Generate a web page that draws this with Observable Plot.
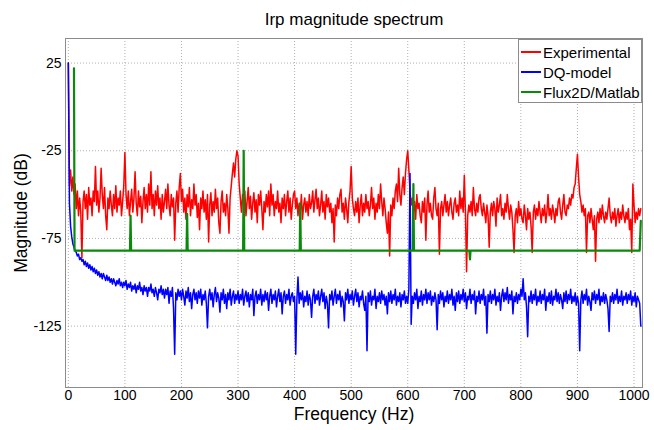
<!DOCTYPE html>
<html><head><meta charset="utf-8">
<script src="https://cdn.jsdelivr.net/npm/d3@7"></script>
<script src="https://cdn.jsdelivr.net/npm/@observablehq/plot@0.6"></script>
<style>
html,body{margin:0;padding:0;background:#fff;}
#wrap{position:relative;width:654px;height:430px;}
#legend{position:absolute;left:518px;top:39px;width:124px;height:64px;border:1px solid #8c8c8c;background:#fff;box-sizing:border-box;font:15px "Liberation Sans",Arial,sans-serif;color:#000;padding-top:2px;}
#legend .row{display:flex;align-items:center;height:20px;}
#legend .sw{width:20px;height:0;border-top:2.2px solid;margin:0 2px 0 2px;}
</style></head>
<body><div id="wrap"><div id="legend"></div></div>
<script>
// frequency step (Hz) of the sampled spectra
const step = 2;
const xTicks = [0,100,200,300,400,500,600,700,800,900,1000];
const yTicks = [25,-25,-75,-125];
const seriesNames = ["Experimental","DQ-model","Flux2D/Matlab"];
const seriesColors = ["#ff0000","#0000ff","#0a8a0a"];

// Experimental (dB), every 2 Hz from 0 to 1012 Hz (one row per 100 Hz)
const expDb = [
  25,-45,-36,-48,-40, -50,-44,-58,-48,-62, -52,-60,-86,-54,-48, -58,-50,-64,-46,-56, -52,-62,-48,-54,-34, -56,-48,-60,-52,-35, -50,-58,-46,-62,-70, -52,-58,-48,-56,-62, -50,-58,-45,-60,-52, -56,-48,-62,-54,-45,
  -26,-50,-58,-48,-62, -54,-47,-60,-52,-37, -55,-62,-48,-57,-51, -66,-54,-46,-58,-50, -60,-44,-56,-37,-58, -50,-62,-48,-56,-45, -58,-52,-64,-50,-60, -54,-47,-58,-44,-56, -62,-50,-57,-52,-76, -55,-48,-60,-46,-38,
  -54,-47,-60,-52,-64, -50,-57,-46,-62,-53, -58,-44,-56,-50,-63, -55,-70,-52,-58,-48, -60,-53,-64,-50,-77, -56,-49,-62,-54,-60, -47,-58,-52,-66,-72, -54,-48,-60,-55,-62, -50,-58,-72,-52,-45, -38,-32,-40,-30,-25,
  -28,-44,-52,-60,-50, -56,-48,-62,-54,-46, -58,-51,-64,-55,-49, -60,-53,-66,-50,-56, -48,-58,-70,-54,-60, -50,-57,-48,-62,-44, -56,-50,-62,-54,-58, -48,-60,-55,-66,-52, -58,-50,-62,-54,-48, -60,-52,-64,-56,-50,
  -48,-58,-52,-62,-55, -60,-50,-64,-56,-52, -60,-54,-62,-50,-58, -55,-48,-60,-53,-47, -58,-52,-62,-56,-48, -60,-54,-64,-50,-57, -52,-60,-55,-66,-58, -77,-56,-62,-52,-58, -50,-47,-60,-55,-64, -52,-58,-66,-54,-48,
  -34,-52,-58,-62,-54, -60,-52,-66,-56,-50, -62,-55,-60,-50,-58, -54,-62,-56,-46,-58, -52,-64,-55,-60,-50, -58,-44,-54,-62,-52, -58,-66,-72,-60,-85, -56,-62,-52,-58,-48, -44,-54,-35,-50,-56, -46,-40,-50,-38,-30,
  -25,-36,-48,-56,-52, -60,-54,-64,-50,-58, -55,-62,-66,-54,-60, -52,-76,-56,-48,-60, -55,-62,-64,-52,-46, -58,-62,-55,-84,-58, -54,-62,-56,-50,-60, -54,-62,-56,-52,-60, -64,-55,-52,-60,-56, -62,-48,-58,-52,-60,
  -39,-60,-94,-62,-56, -60,-54,-62,-46,-58, -62,-55,-60,-52,-50, -58,-62,-55,-60,-66, -56,-62,-80,-60,-55, -62,-54,-58,-68,-52, -60,-56,-50,-62,-58, -64,-55,-60,-50,-58, -64,-56,-60,-70,-83, -62,-58,-66,-54,-62,
  -58,-64,-66,-56,-62, -70,-58,-64,-60,-68, -83,-60,-56,-64,-58, -62,-54,-60,-66,-58, -62,-56,-66,-60,-50, -62,-58,-64,-56,-60, -66,-58,-62,-54,-52, -60,-64,-56,-50,-60, -62,-56,-58,-52,-56, -50,-52,-46,-44,-35,
  -27,-40,-50,-54,-60, -56,-62,-58,-83,-62, -60,-66,-58,-64,-70, -62,-88,-64,-60,-66, -58,-64,-56,-62,-66, -60,-64,-58,-52,-62, -66,-60,-64,-58,-68, -62,-58,-66,-60,-64, -56,-62,-66,-60,-64, -58,-70,-64,-83,-44,
  -56,-66,-60,-64,-58,-62,-58
];

// DQ-model (dB), every 2 Hz from 0 to 1012 Hz (one row per 100 Hz)
const dqDb = [
  25,-55,-68,-74,-78, -80,-82,-83,-85,-84, -87,-86,-88,-87,-90, -88,-91,-89,-92,-90, -93,-91,-94,-92,-95, -93,-96,-94,-97,-95, -98,-95,-97,-99,-96, -99,-97,-100,-98,-101, -98,-100,-102,-99,-101, -98,-102,-100,-103,-100,
  -102,-99,-104,-101,-103, -100,-105,-102,-104,-101, -106,-102,-104,-100,-105, -103,-107,-102,-105,-103, -108,-103,-105,-101,-106, -104,-108,-103,-106,-110, -104,-106,-102,-107,-104, -109,-104,-107,-103,-112, -105,-108,-103,-115,-141, -106,-110,-104,-108,-105,
  -110,-104,-108,-113,-105, -109,-103,-111,-106,-115, -107,-104,-110,-106,-112, -105,-109,-104,-113,-107, -110,-105,-112,-126,-108, -104,-110,-106,-114,-107, -103,-111,-106,-109,-117, -106,-110,-104,-112,-107, -115,-106,-110,-104,-113, -108,-105,-112,-107,-110,
  -105,-112,-107,-110,-104, -113,-108,-105,-111,-106, -114,-107,-110,-104,-119, -108,-105,-112,-107,-110, -104,-113,-107,-111,-105, -110,-106,-116,-108,-104, -112,-107,-110,-105,-114, -108,-104,-111,-106,-118, -108,-105,-112,-107,-110, -104,-113,-108,-106,-111,
  -108,-141,-110,-97,-112, -106,-110,-105,-114,-108, -111,-105,-113,-107,-110, -120,-108,-104,-112,-107, -110,-105,-113,-108,-104, -111,-106,-115,-108,-112, -126,-107,-110,-105,-113, -108,-104,-112,-107,-110, -105,-114,-108,-111,-122, -106,-110,-104,-112,-107,
  -110,-105,-113,-108,-104, -111,-106,-114,-108,-110, -105,-112,-116,-108,-139, -106,-111,-105,-113,-108, -110,-104,-115,-108,-111, -106,-112,-105,-110,-107, -113,-108,-118,-106,-111, -105,-112,-107,-110,-104, -113,-108,-111,-106,-114, -107,-110,-105,-112,-108,
  -112,-104,-38,-124,-108, -112,-106,-110,-104,-115, -108,-111,-105,-113,-107, -110,-104,-112,-106,-110, -105,-113,-108,-111,-106, -110,-127,-107,-112,-105, -110,-106,-114,-108,-111, -105,-112,-107,-110,-104, -113,-108,-116,-106,-111, -105,-112,-107,-110,-104,
  -111,-106,-115,-108,-110, -104,-112,-107,-110,-105, -118,-108,-111,-105,-112, -107,-110,-104,-113,-108, -129,-107,-111,-105,-112, -107,-110,-104,-113,-108, -111,-106,-116,-108,-104, -111,-106,-110,-103,-112, -107,-110,-105,-118,-108, -111,-106,-112,-107,-110,
  -104,-108,-98,-110,-106, -114,-131,-108,-111,-105, -112,-107,-110,-104,-113, -108,-111,-105,-112,-107, -110,-104,-116,-108,-111, -106,-112,-105,-113,-108, -110,-104,-111,-106,-112, -107,-110,-115,-106,-111, -105,-112,-107,-110,-104, -112,-108,-111,-106,-113,
  -108,-112,-139,-110,-105, -112,-107,-110,-104,-113, -108,-111,-116,-106,-110, -105,-112,-107,-110,-104, -113,-108,-111,-106,-112, -107,-110,-115,-128,-108, -111,-106,-112,-107,-110, -104,-112,-108,-111,-105, -113,-108,-110,-106,-112, -107,-110,-105,-113,-108,
  -111,-106,-114,-108,-110,-112,-125
];

// Flux2D/Matlab: flat floor with harmonic lines
const fluxFreq = [10,11,109,110,111,209,210,211,309,310,311,409,410,411,609,610,611,709,710,711,1010,1012];
const fluxDb   = [22,-82,-82,-62,-82,-82,-61,-82,-82,-25,-82,-82,-55,-82,-82,-44,-82,-82,-87,-82,-82,-65];

const freqE = expDb.map((_, i) => i * step);
const freqD = dqDb.map((_, i) => i * step);

const font = '"Liberation Sans", Arial, sans-serif';
const gridStyle = {stroke: "#9a9a9a", strokeOpacity: 1, strokeWidth: 0.8, strokeDasharray: "1,2"};

const plot = Plot.plot({
  width: 654, height: 430,
  marginLeft: 65, marginRight: 12, marginTop: 38, marginBottom: 43,
  style: {fontFamily: font, fontSize: "14px", background: "white", color: "#000"},
  x: {domain: [-5, 1015], label: null},
  y: {domain: [-160, 39], label: null},
  marks: [
    Plot.gridX(xTicks, gridStyle),
    Plot.gridY(yTicks, gridStyle),
    Plot.line(expDb, {x: freqE, y: expDb, stroke: seriesColors[0], strokeWidth: 1.5, clip: true}),
    Plot.line(dqDb, {x: freqD, y: dqDb, stroke: seriesColors[1], strokeWidth: 1.5, clip: true}),
    Plot.line(fluxDb, {x: fluxFreq, y: fluxDb, stroke: seriesColors[2], strokeWidth: 2.2, clip: true}),
    Plot.frame({stroke: "#8c8c8c"}),
    Plot.axisX(xTicks, {tickSize: 0, tickPadding: 3, fontSize: 14, tickFormat: d => String(d), label: null}),
    Plot.axisY(yTicks, {tickSize: 0, tickPadding: 4, fontSize: 14, tickFormat: d => String(d), label: null}),
    Plot.text(["Irp magnitude spectrum"], {text: d => d, frameAnchor: "top", dy: -19, lineAnchor: "middle", fontSize: 17}),
    Plot.text(["Frequency (Hz)"], {text: d => d, frameAnchor: "bottom", dy: 27, lineAnchor: "middle", fontSize: 17.5}),
    Plot.text(["Magnitude (dB)"], {text: d => d, frameAnchor: "left", dx: -44, rotate: -90, textAnchor: "middle", lineAnchor: "middle", fontSize: 17.5})
  ]
});
const wrap = document.getElementById("wrap");
wrap.insertBefore(plot, wrap.firstChild);

const legend = document.getElementById("legend");
seriesNames.forEach((n, i) => {
  const row = document.createElement("div");
  row.className = "row";
  const sw = document.createElement("span");
  sw.className = "sw";
  sw.style.borderTopColor = seriesColors[i];
  const t = document.createElement("span");
  t.textContent = n;
  row.appendChild(sw); row.appendChild(t);
  legend.appendChild(row);
});
</script></body></html>
